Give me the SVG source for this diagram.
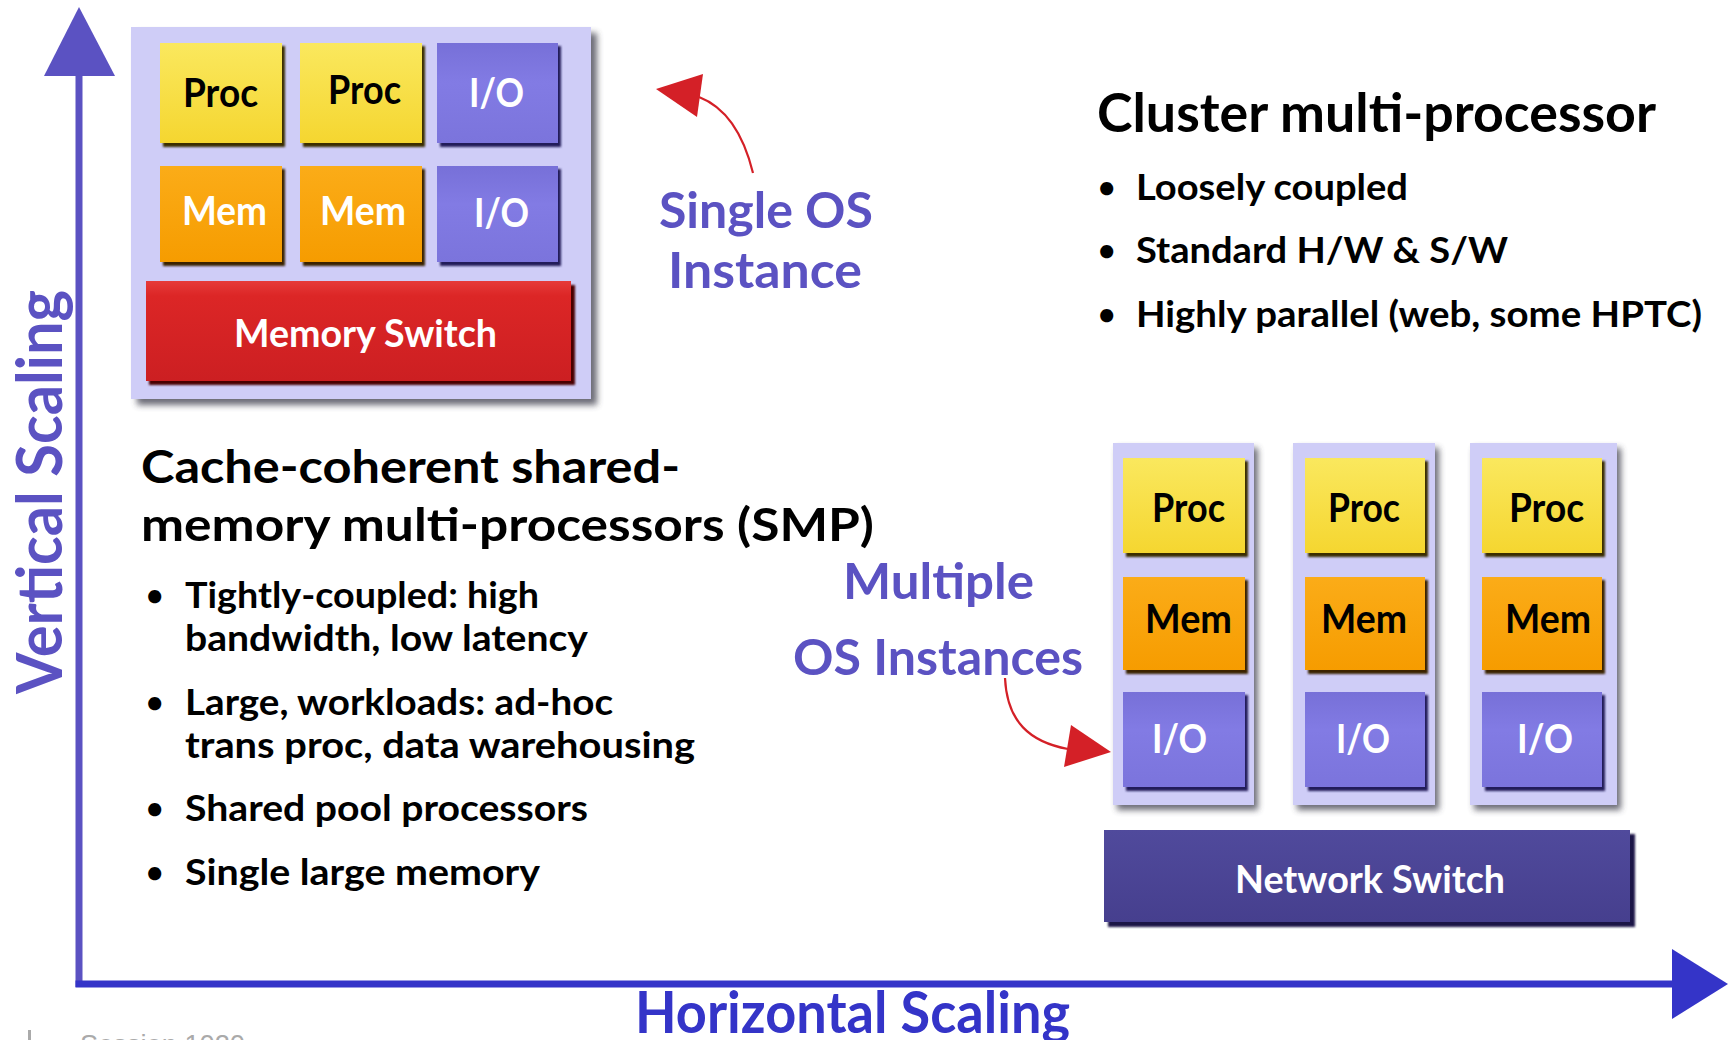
<svg xmlns="http://www.w3.org/2000/svg" width="1729" height="1040" viewBox="0 0 1729 1040">
<defs>
  <filter id="soft" x="-10%" y="-10%" width="125%" height="125%"><feGaussianBlur stdDeviation="3"/></filter>
  <filter id="edge" x="-5%" y="-5%" width="115%" height="115%"><feGaussianBlur stdDeviation="1"/></filter>
  <linearGradient id="gProc" x1="0" y1="0" x2="0" y2="1"><stop offset="0" stop-color="#fae85e"/><stop offset="1" stop-color="#f5d630"/></linearGradient>
  <linearGradient id="gMem" x1="0" y1="0" x2="0" y2="1"><stop offset="0" stop-color="#fbac18"/><stop offset="1" stop-color="#f69c00"/></linearGradient>
  <linearGradient id="gIO" x1="0" y1="0" x2="0" y2="1"><stop offset="0" stop-color="#7770d8"/><stop offset="0.4" stop-color="#827be4"/><stop offset="1" stop-color="#7b74dc"/></linearGradient>
  <linearGradient id="gRed" x1="0" y1="0" x2="0" y2="1"><stop offset="0" stop-color="#e63a3a"/><stop offset="0.15" stop-color="#dc2626"/><stop offset="1" stop-color="#cc1f22"/></linearGradient>
  <linearGradient id="gNet" x1="0" y1="0" x2="0" y2="1"><stop offset="0" stop-color="#504a9c"/><stop offset="1" stop-color="#463f8e"/></linearGradient>
</defs>
<style>
  .lbl { font-family: Lato, "Open Sans", "Noto Sans", sans-serif; font-weight: bold; }
  .box { font-size: 40px; }
  .blk { fill: #000000; }
  .wht { fill: #ffffff; }
  .pur { fill: #5b52c2; }
  .head { font-size: 54px; }
  .smph { font-size: 45px; }
  .bul { font-size: 37px; }
  .dot { font-size: 30px; }
  .os { font-size: 50px; }
  .panel { fill: #cfcdf7; }
  .pshadow { fill: #3a3a4a; opacity: 0.75; filter: url(#soft); }
  .bshadow { filter: url(#edge); }
  .arrowred { fill: none; stroke: #d42027; stroke-width: 2.2; }
</style>

<!-- Axes -->
<g id="axes">
  <rect x="75.5" y="70" width="7" height="917" fill="#5b52c2"/>
  <polygon points="79,7 44,76 115,76" fill="#5b52c2"/>
  <rect x="75.5" y="980.5" width="1600" height="7" fill="#3434c8"/>
  <polygon points="1728,984 1672,949 1672,1019" fill="#3434c8"/>
</g>

<!-- SMP node -->
<g id="smp">
  <rect class="pshadow" x="137" y="33" width="460" height="372"/>
  <rect class="panel" x="131" y="27" width="460" height="372"/>
  <g id="smp-proc1">
    <rect class="bshadow" x="163" y="46" width="122" height="101" fill="#3a2e00"/>
    <rect x="160" y="43" width="122" height="100" fill="url(#gProc)"/>
    <text class="lbl box blk" x="183" y="107" textLength="75" lengthAdjust="spacingAndGlyphs">Proc</text>
  </g>
  <g id="smp-proc2">
    <rect class="bshadow" x="303" y="46" width="122" height="101" fill="#3a2e00"/>
    <rect x="300" y="43" width="122" height="100" fill="url(#gProc)"/>
    <text class="lbl box blk" x="328" y="104" textLength="73" lengthAdjust="spacingAndGlyphs">Proc</text>
  </g>
  <g id="smp-io1">
    <rect class="bshadow" x="440" y="46" width="121" height="101" fill="#201c5a"/>
    <rect x="437" y="43" width="121" height="100" fill="url(#gIO)"/>
    <text class="lbl box wht" x="469" y="107" textLength="55" lengthAdjust="spacingAndGlyphs">I/O</text>
  </g>
  <g id="smp-mem1">
    <rect class="bshadow" x="163" y="169" width="122" height="97" fill="#3a2400"/>
    <rect x="160" y="166" width="122" height="96" fill="url(#gMem)"/>
    <text class="lbl box wht" x="182" y="225" textLength="85" lengthAdjust="spacingAndGlyphs">Mem</text>
  </g>
  <g id="smp-mem2">
    <rect class="bshadow" x="303" y="169" width="122" height="97" fill="#3a2400"/>
    <rect x="300" y="166" width="122" height="96" fill="url(#gMem)"/>
    <text class="lbl box wht" x="320" y="225" textLength="86" lengthAdjust="spacingAndGlyphs">Mem</text>
  </g>
  <g id="smp-io2">
    <rect class="bshadow" x="440" y="169" width="121" height="97" fill="#201c5a"/>
    <rect x="437" y="166" width="121" height="96" fill="url(#gIO)"/>
    <text class="lbl box wht" x="474" y="227" textLength="55" lengthAdjust="spacingAndGlyphs">I/O</text>
  </g>
  <g id="smp-memswitch">
    <rect class="bshadow" x="149" y="285" width="426" height="100" fill="#4a0000"/>
    <rect x="146" y="281" width="425" height="100" fill="url(#gRed)"/>
    <text class="lbl wht" font-size="38" x="234" y="347" textLength="263" lengthAdjust="spacingAndGlyphs">Memory Switch</text>
  </g>
</g>

<!-- Cluster node -->
<g id="cluster">
  <g id="col1">
    <rect class="pshadow" x="1117" y="448" width="141" height="362"/>
    <rect class="panel" x="1113" y="443" width="141" height="362"/>
    <rect class="bshadow" x="1126" y="461" width="122" height="96" fill="#3a2e00"/>
    <rect x="1123" y="458" width="122" height="95" fill="url(#gProc)"/>
    <rect class="bshadow" x="1126" y="580" width="122" height="94" fill="#3a2400"/>
    <rect x="1123" y="577" width="122" height="93" fill="url(#gMem)"/>
    <rect class="bshadow" x="1126" y="695" width="122" height="96" fill="#201c5a"/>
    <rect x="1123" y="692" width="122" height="95" fill="url(#gIO)"/>
    <text class="lbl box blk" x="1152" y="522" textLength="73" lengthAdjust="spacingAndGlyphs">Proc</text>
    <text class="lbl box blk" x="1145" y="633" textLength="87" lengthAdjust="spacingAndGlyphs">Mem</text>
    <text class="lbl box wht" x="1152" y="753" textLength="55" lengthAdjust="spacingAndGlyphs">I/O</text>
  </g>
  <g id="col2">
    <rect class="pshadow" x="1297" y="448" width="142" height="362"/>
    <rect class="panel" x="1293" y="443" width="142" height="362"/>
    <rect class="bshadow" x="1308" y="461" width="120" height="96" fill="#3a2e00"/>
    <rect x="1305" y="458" width="120" height="95" fill="url(#gProc)"/>
    <rect class="bshadow" x="1308" y="580" width="120" height="94" fill="#3a2400"/>
    <rect x="1305" y="577" width="120" height="93" fill="url(#gMem)"/>
    <rect class="bshadow" x="1308" y="695" width="120" height="96" fill="#201c5a"/>
    <rect x="1305" y="692" width="120" height="95" fill="url(#gIO)"/>
    <text class="lbl box blk" x="1328" y="522" textLength="72" lengthAdjust="spacingAndGlyphs">Proc</text>
    <text class="lbl box blk" x="1321" y="633" textLength="86" lengthAdjust="spacingAndGlyphs">Mem</text>
    <text class="lbl box wht" x="1336" y="753" textLength="54" lengthAdjust="spacingAndGlyphs">I/O</text>
  </g>
  <g id="col3">
    <rect class="pshadow" x="1474" y="448" width="147" height="362"/>
    <rect class="panel" x="1470" y="443" width="147" height="362"/>
    <rect class="bshadow" x="1485" y="461" width="120" height="96" fill="#3a2e00"/>
    <rect x="1482" y="458" width="120" height="95" fill="url(#gProc)"/>
    <rect class="bshadow" x="1485" y="580" width="120" height="94" fill="#3a2400"/>
    <rect x="1482" y="577" width="120" height="93" fill="url(#gMem)"/>
    <rect class="bshadow" x="1485" y="695" width="120" height="96" fill="#201c5a"/>
    <rect x="1482" y="692" width="120" height="95" fill="url(#gIO)"/>
    <text class="lbl box blk" x="1509" y="522" textLength="75" lengthAdjust="spacingAndGlyphs">Proc</text>
    <text class="lbl box blk" x="1505" y="633" textLength="86" lengthAdjust="spacingAndGlyphs">Mem</text>
    <text class="lbl box wht" x="1517" y="753" textLength="56" lengthAdjust="spacingAndGlyphs">I/O</text>
  </g>
  <g id="netswitch">
    <rect class="bshadow" x="1108" y="834" width="527" height="93" fill="#1c1946"/>
    <rect x="1104" y="830" width="526" height="92" fill="url(#gNet)"/>
    <text class="lbl wht" font-size="38" x="1235" y="893" textLength="270" lengthAdjust="spacingAndGlyphs">Network Switch</text>
  </g>
</g>

<!-- Texts -->
<g id="cluster-text">
  <text class="lbl head blk" x="1097" y="132" textLength="559" lengthAdjust="spacingAndGlyphs">Cluster multi-processor</text>
  <text class="lbl dot blk" x="1098" y="198">•</text>
  <text class="lbl bul blk" x="1136" y="200" textLength="272" lengthAdjust="spacingAndGlyphs">Loosely coupled</text>
  <text class="lbl dot blk" x="1098" y="261">•</text>
  <text class="lbl bul blk" x="1136" y="263" textLength="372" lengthAdjust="spacingAndGlyphs">Standard H/W &amp; S/W</text>
  <text class="lbl dot blk" x="1098" y="325">•</text>
  <text class="lbl bul blk" x="1136" y="327" textLength="566" lengthAdjust="spacingAndGlyphs">Highly parallel (web, some HPTC)</text>
</g>

<g id="smp-text">
  <text class="lbl smph blk" x="141" y="483" textLength="539" lengthAdjust="spacingAndGlyphs">Cache-coherent shared-</text>
  <text class="lbl smph blk" x="141" y="541" textLength="733" lengthAdjust="spacingAndGlyphs">memory multi-processors (SMP)</text>
  <text class="lbl dot blk" x="146" y="606">•</text>
  <text class="lbl bul blk" x="185" y="608" textLength="354" lengthAdjust="spacingAndGlyphs">Tightly-coupled: high</text>
  <text class="lbl bul blk" x="185" y="651" textLength="403" lengthAdjust="spacingAndGlyphs">bandwidth, low latency</text>
  <text class="lbl dot blk" x="146" y="713">•</text>
  <text class="lbl bul blk" x="185" y="715" textLength="428" lengthAdjust="spacingAndGlyphs">Large, workloads: ad-hoc</text>
  <text class="lbl bul blk" x="185" y="758" textLength="510" lengthAdjust="spacingAndGlyphs">trans proc, data warehousing</text>
  <text class="lbl dot blk" x="146" y="819">•</text>
  <text class="lbl bul blk" x="185" y="821" textLength="403" lengthAdjust="spacingAndGlyphs">Shared pool processors</text>
  <text class="lbl dot blk" x="146" y="883">•</text>
  <text class="lbl bul blk" x="185" y="885" textLength="355" lengthAdjust="spacingAndGlyphs">Single large memory</text>
</g>

<g id="os-labels">
  <text class="lbl os pur" x="659" y="228" textLength="214" lengthAdjust="spacingAndGlyphs">Single OS</text>
  <text class="lbl os pur" x="668" y="288" textLength="194" lengthAdjust="spacingAndGlyphs">Instance</text>
  <text class="lbl os pur" x="843" y="599" textLength="191" lengthAdjust="spacingAndGlyphs">Multiple</text>
  <text class="lbl os pur" x="793" y="675" textLength="290" lengthAdjust="spacingAndGlyphs">OS Instances</text>
</g>

<g id="axis-labels">
  <text class="lbl" font-size="58" fill="#3434c8" x="635" y="1033" textLength="435" lengthAdjust="spacingAndGlyphs">Horizontal Scaling</text>
  <text class="lbl pur" font-size="64" transform="translate(62,694) rotate(-90)" x="0" y="0" textLength="404" lengthAdjust="spacingAndGlyphs">Vertical Scaling</text>
</g>

<!-- Connectors -->
<g id="connectors">
  <path class="arrowred" d="M753,173 Q738,112 699,97"/>
  <polygon points="656,89 703,74 697,117" fill="#d42027"/>
  <path class="arrowred" d="M1005,678 C1007,722 1030,742 1068,749"/>
  <polygon points="1111,752 1071,725 1064,767" fill="#d42027"/>
</g>

<g id="footer">
  <rect x="28" y="1030" width="3" height="10" fill="#aaaaaa"/>
  <text x="80" y="1054" font-family="Liberation Sans, sans-serif" font-size="27" fill="#aaaaaa" textLength="165" lengthAdjust="spacingAndGlyphs">Session 1020</text>
</g>
</svg>
